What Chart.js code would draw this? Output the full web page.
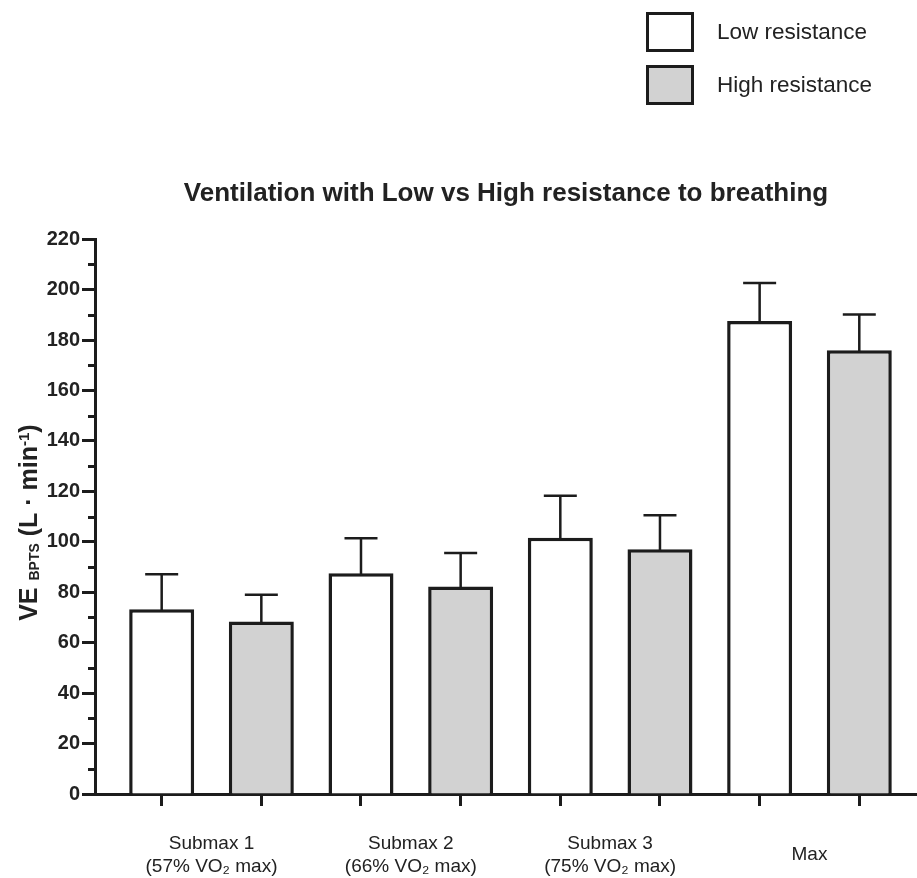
<!DOCTYPE html>
<html>
<head>
<meta charset="utf-8">
<title>Ventilation with Low vs High resistance to breathing</title>
<script src="https://cdn.jsdelivr.net/npm/chart.js@4.4.1/dist/chart.umd.min.js"></script>
<style>
  body { margin: 0; background: #fff; }
  #contenedor { position: relative; width: 917px; height: 878px; }
  .leyenda { position: absolute; left: 646px; display: flex; align-items: center;
    font-family: "Liberation Sans", Arial, sans-serif; font-size: 22.5px; color: #222; }
  .caja { box-sizing: border-box; width: 48px; height: 40px; border: 3.5px solid #1c1c1c; margin-right: 23px; }
</style>
</head>
<body>
<div id="contenedor">
  <canvas id="grafico"></canvas>
  <div id="leyenda"></div>
</div>
<script>
const categorias = [
  ['Submax 1', '(57% VO₂ max)'],
  ['Submax 2', '(66% VO₂ max)'],
  ['Submax 3', '(75% VO₂ max)'],
  'Max'
];
const series = ['Low resistance', 'High resistance'];
const mediaBaja = [73.3, 87.5, 101.6, 187.6];
const errorBaja = [13.8, 13.9, 16.7, 15.0];
const mediaAlta = [68.4, 82.3, 97.1, 176.0];
const errorAlta = [10.6, 13.3, 13.4, 14.1];
const ejeY = { min: 0, max: 220, paso: 20 };
const titulo = 'Ventilation with Low vs High resistance to breathing';
const tituloY = [
  { texto: 'VE ', tipo: 'normal' },
  { texto: 'BPTS', tipo: 'sub' },
  { texto: ' (L · min', tipo: 'normal' },
  { texto: '-1', tipo: 'sup' },
  { texto: ')', tipo: 'normal' }
];

const NEGRO = '#1c1c1c';
const TEXTO = '#222';
const FUENTE = '"Liberation Sans", Arial, sans-serif';
const rellenos = ['#ffffff', '#d2d2d2'];

// cada grupo ocupa dos posiciones: baja en 2i+1, alta en 2i+2
const posiciones = categorias.flatMap((c, i) => [2 * i + 1, 2 * i + 2]);
const centrosGrupo = categorias.map((c, i) => 2 * i + 1.5);

function renderizarLeyenda() {
  const cont = document.getElementById('leyenda');
  cont.innerHTML = series.map((nombre, i) => `
    <div class="leyenda" style="top:${12 + i * 53}px">
      <div class="caja" style="background:${rellenos[i]}"></div>
      <span>${nombre}</span>
    </div>`).join('');
}

// el título va centrado sobre el área del gráfico, no sobre el canvas
const centrarTitulo = {
  id: 'centrarTitulo',
  afterLayout(chart) {
    if (chart.titleBlock) {
      chart.titleBlock.left = chart.chartArea.left;
      chart.titleBlock.right = chart.chartArea.right;
    }
  }
};

const marcasMenores = {
  id: 'marcasMenores',
  afterDraw(chart) {
    const { ctx, chartArea, scales: { y } } = chart;
    ctx.save();
    ctx.strokeStyle = NEGRO;
    ctx.lineWidth = 3;
    for (let k = 0; k < y.ticks.length - 1; k++) {
      const v = (y.ticks[k].value + y.ticks[k + 1].value) / 2;
      const py = Math.round(y.getPixelForValue(v)) + 0.5;
      ctx.beginPath();
      ctx.moveTo(chartArea.left - 7, py);
      ctx.lineTo(chartArea.left, py);
      ctx.stroke();
    }
    ctx.restore();
  }
};

const barrasError = {
  id: 'barrasError',
  afterDatasetsDraw(chart) {
    const { ctx, scales: { y } } = chart;
    ctx.save();
    ctx.strokeStyle = NEGRO;
    ctx.lineWidth = 2.5;
    chart.data.datasets.forEach((ds, i) => {
      const meta = chart.getDatasetMeta(i);
      meta.data.forEach((barra, j) => {
        const arriba = y.getPixelForValue(ds.data[j].y + ds.errores[j]);
        ctx.beginPath();
        ctx.moveTo(barra.x, barra.y + 2);
        ctx.lineTo(barra.x, arriba);
        ctx.moveTo(barra.x - 16.5, arriba);
        ctx.lineTo(barra.x + 16.5, arriba);
        ctx.stroke();
      });
    });
    ctx.restore();
  }
};

const tituloEjeY = {
  id: 'tituloEjeY',
  afterDraw(chart) {
    const { ctx, chartArea } = chart;
    const fuentes = {
      normal: { f: `bold 25px ${FUENTE}`, dy: 0 },
      sub: { f: `bold 14px ${FUENTE}`, dy: 2 },
      sup: { f: `bold 15px ${FUENTE}`, dy: -8 }
    };
    let total = 0;
    tituloY.forEach(p => {
      ctx.font = fuentes[p.tipo].f;
      p.ancho = ctx.measureText(p.texto).width;
      total += p.ancho;
    });
    ctx.save();
    ctx.translate(37, (chartArea.top + chartArea.bottom) / 2 + 6);
    ctx.rotate(-Math.PI / 2);
    ctx.fillStyle = TEXTO;
    ctx.textBaseline = 'alphabetic';
    let x = -total / 2;
    tituloY.forEach(p => {
      ctx.font = fuentes[p.tipo].f;
      ctx.fillText(p.texto, x, fuentes[p.tipo].dy);
      x += p.ancho;
    });
    ctx.restore();
  }
};

function construirDatos(medias, errores, serie) {
  return {
    label: series[serie],
    data: medias.map((v, i) => ({ x: posiciones[i * 2 + serie], y: v })),
    errores: errores,
    backgroundColor: rellenos[serie],
    borderColor: NEGRO,
    borderWidth: 3.5,
    grouped: false,
    categoryPercentage: 1,
    barPercentage: 0.652
  };
}

renderizarLeyenda();

new Chart(document.getElementById('grafico'), {
  type: 'bar',
  data: {
    datasets: [
      construirDatos(mediaBaja, errorBaja, 0),
      construirDatos(mediaAlta, errorAlta, 1)
    ]
  },
  options: {
    responsive: true,
    maintainAspectRatio: false,
    animation: false,
    layout: { padding: 0 },
    plugins: {
      legend: { display: false },
      tooltip: { enabled: false },
      title: {
        display: true,
        text: titulo,
        color: TEXTO,
        font: { family: FUENTE, size: 26, weight: 'bold' },
        padding: { top: 178, bottom: 30 }
      }
    },
    scales: {
      x: {
        type: 'linear',
        position: 'bottom',
        offset: false,
        min: 0.331,
        max: 8.579,
        afterBuildTicks: s => { s.ticks = posiciones.map(v => ({ value: v })); },
        ticks: { display: false },
        grid: { display: true, offset: false, drawOnChartArea: false, drawTicks: true, tickLength: 12, tickWidth: 3, tickColor: NEGRO },
        border: { display: true, width: 3, color: NEGRO },
        afterFit: s => { s.height = 14; }
      },
      x2: {
        type: 'linear',
        position: 'bottom',
        offset: false,
        min: 0.331,
        max: 8.579,
        afterBuildTicks: s => { s.ticks = centrosGrupo.map(v => ({ value: v })); },
        ticks: {
          autoSkip: false,
          maxRotation: 0,
          crossAlign: 'center',
          padding: 36,
          color: TEXTO,
          font: { family: FUENTE, size: 19, lineHeight: 1.18 },
          callback: (valor, i) => categorias[i]
        },
        grid: { display: false, offset: false, drawTicks: false },
        border: { display: false },
        afterFit: s => { s.height = 70; }
      },
      y: {
        min: ejeY.min,
        max: ejeY.max,
        ticks: {
          stepSize: ejeY.paso,
          padding: 2,
          color: TEXTO,
          font: { family: FUENTE, size: 20, weight: 'bold' }
        },
        grid: { display: true, drawOnChartArea: false, drawTicks: true, tickLength: 13, tickWidth: 3, tickColor: NEGRO },
        border: { display: true, width: 3, color: NEGRO },
        afterFit: s => { s.width = 95; }
      }
    }
  },
  plugins: [centrarTitulo, marcasMenores, barrasError, tituloEjeY]
});
</script>
</body>
</html>
